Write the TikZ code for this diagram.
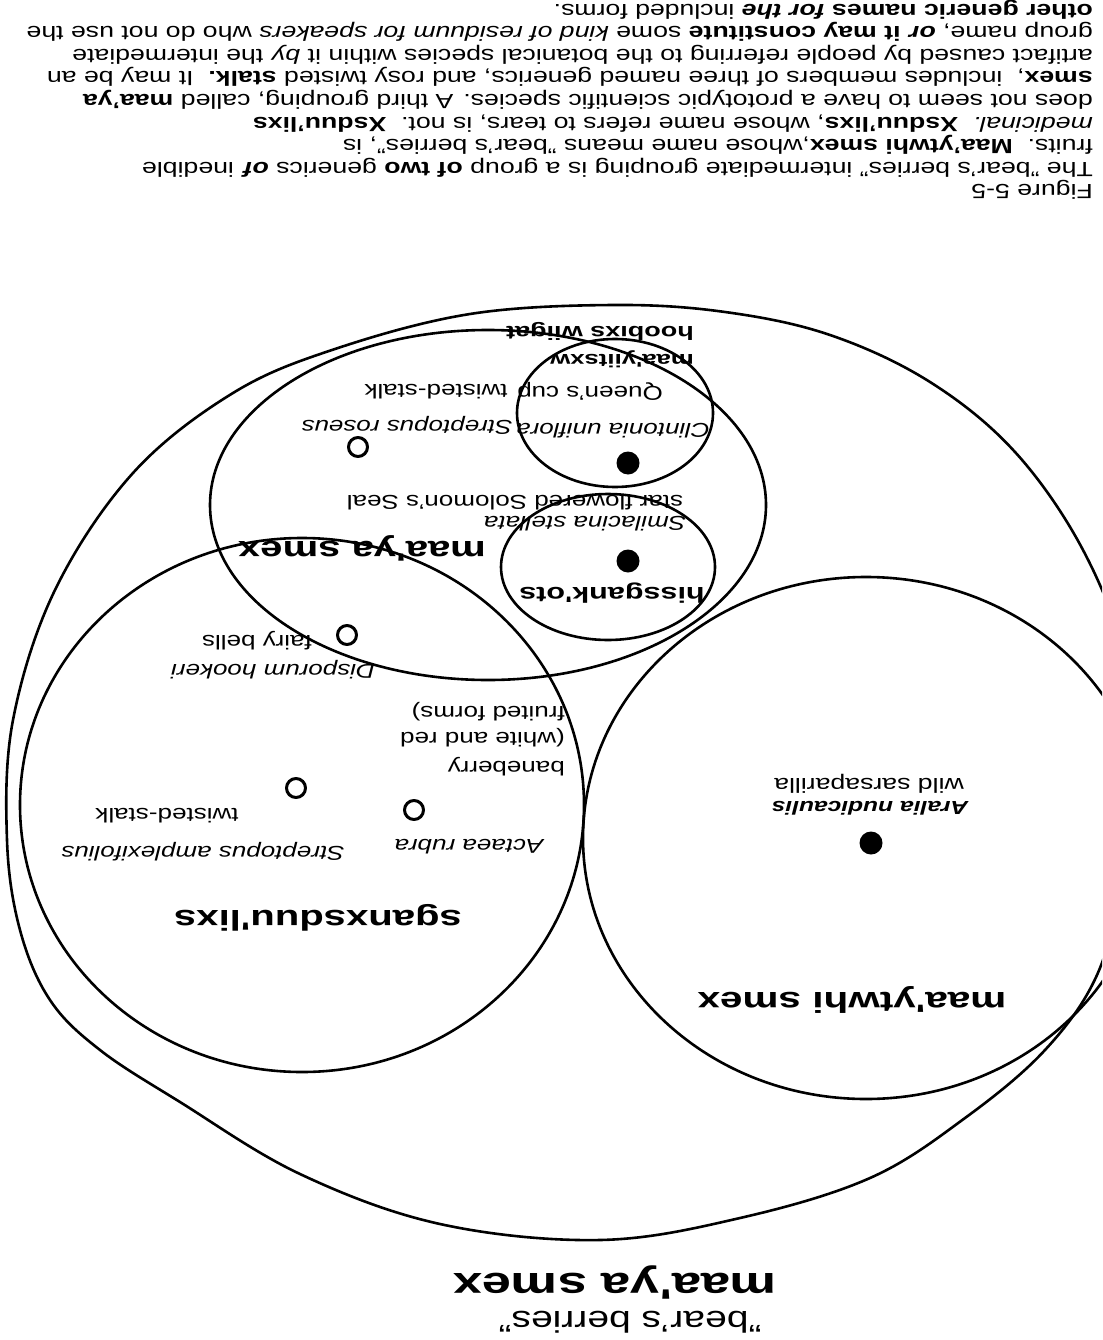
\documentclass[tikz,border=0pt]{standalone}
\usepackage{fontspec}
\setmainfont{Liberation Sans}[FakeStretch=1.3]
\newfontfamily\labfont{Liberation Sans}[FakeStretch=1.4]
\begin{document}
\begin{tikzpicture}[x=1pt,y=-1pt,line join=round,
  ring/.style={draw,line width=2.6pt},
  body/.style={rotate=180,anchor=base west,inner sep=0pt,font=\fontsize{20.5}{22.6}\selectfont},
  lab/.style={rotate=180,inner sep=0pt,font=\fontsize{20}{24}\selectfont},
  labit/.style={lab,font=\fontsize{20}{24}\selectfont\itshape},
  bold/.style={rotate=180,inner sep=0pt,font=\labfont\bfseries\fontsize{#1}{#1}\selectfont},
  opendot/.style={draw,line width=3pt,circle,minimum size=19pt,inner sep=0pt},
  fulldot/.style={fill,circle,minimum size=23pt,inner sep=0pt}]
\useasboundingbox (0,0) rectangle (1102,1340);
\clip (0,0) rectangle (1102,1340);

% ---------- groupings ----------
\draw[ring] plot[smooth cycle,tension=0.6] coordinates {
 (613,305) (725,312) (830,335) (930,382) (1015,452) (1083,550) (1125,660)
 (1135,780) (1122,880) (1097,975) (1045,1050) (965,1118) (870,1178)
 (740,1218) (600,1240) (440,1224) (300,1174) (180,1102) (100,1050)
 (50,1000) (20,930) (7,840) (13,720) (55,590) (133,473) (233,393)
 (335,349) (470,314)};
\draw[ring] (302,805) ellipse [x radius=282,y radius=267];
\draw[ring] (866,838) ellipse [x radius=283,y radius=261];
\draw[ring] (488,505) ellipse [x radius=278,y radius=175];
\draw[ring] (608,567) ellipse [x radius=107,y radius=73];
\draw[ring] (615,413) ellipse [x radius=98,y radius=74];

% ---------- species marks ----------
\node[fulldot] (dclin) at (628,463) {};
\node[fulldot] (dsmil) at (628,561) {};
\node[fulldot] (daral) at (871,843) {};
\node[opendot] (oros) at (358,447) {};
\node[opendot] (ofairy) at (347,635) {};
\node[opendot] (oamp) at (296,788) {};
\node[opendot] (oact) at (414,810) {};

% ---------- small labels ----------
\node[lab] (queen) at (590,391) {Queen's cup};
\node[lab] (twsa) at (436,392) {twisted-stalk};
\node[labit] (clin) at (613,431) {Clintonia uniflora};
\node[labit] (stros) at (407,425) {Streptopus roseus};
\node[lab] (star) at (515,503) {star flowered Solomon's Seal};
\node[labit] (smil) at (585,524) {Smilacina stellata};
\node[lab] (fairy) at (257,641) {fairy bells};
\node[labit] (disp) at (273,670) {Disporum hookeri};
\node[lab,anchor=west] (bane) at (565,767) {baneberry};
\node[lab,anchor=west] (white) at (565,738) {(white and red};
\node[lab,anchor=west] (fruit) at (565,712) {fruited forms)};
\node[labit] (act) at (469,847) {Actaea rubra};
\node[lab] (twsb) at (167,816) {twisted-stalk};
\node[labit] (samp) at (203,852) {Streptopus amplexifolius};
\node[lab,font=\fontsize{18.9}{22}\selectfont\bfseries\itshape] (aral) at (870,808) {Aralia nudicaulis};
\node[lab,font=\fontsize{20.5}{22}\selectfont] (wild) at (869,784) {wild sarsaparilla};

% ---------- group names ----------
\node[bold=19.3] (hoob) at (600,331) {hoobixs wiigat};
\node[bold=18.4] (maayi) at (622,359) {maa'yiitsxw};
\node[bold=21.8] (hiss) at (612,593) {hissgank'ots};
\node[bold=28.6] (mys) at (362,548) {maa'ya smex};
\node[bold=28.6] (sgan) at (318,918) {sganxsduu'lixs};
\node[bold=28.9] (mtw) at (852,1000) {maa'ytwhi smex};
\node[bold=37.4] (mbig) at (615,1282) {maa'ya smex};
\node[lab,font=\fontsize{30}{32}\selectfont] (bear) at (630,1322) {"bear's berries"};

% ---------- caption ----------
\node[body] (c1) at (1093,185) {Figure 5-5};
\node[body] (c2) at (1093,162.4) {The "bear's berries" intermediate grouping is a group \textbf{of two} generics \textbf{\textit{of}} inedible};
\node[body] (c3) at (1093,139.8) {fruits.\ \ \textbf{Maa'ytwhi smex},whose name means "bear's berries", is};
\node[body] (c4) at (1093,117.2) {\textit{medicinal.}\ \ \textbf{Xsduu'lixs}, whose name refers to tears, is not.\ \ \textbf{Xsduu'lixs}};
\node[body] (c5) at (1093,94.6) {does not seem to have a prototypic scientific species. A third grouping, called \textbf{maa'ya}};
\node[body] (c6) at (1093,72) {\textbf{smex},\ \ includes members of three named generics, and rosy twisted \textbf{stalk.}\ \ It may be an};
\node[body] (c7) at (1093,49.4) {artifact caused by people referring to the botanical species within it \textit{by} the intermediate};
\node[body] (c8) at (1093,26.8) {group name, \textbf{\textit{or} it may constitute} some \textit{kind of residuum for speakers} who do not use the};
\node[body] (c9) at (1093,4.2) {\textbf{other generic names \textit{for the}} included forms.};
\end{tikzpicture}
\end{document}
